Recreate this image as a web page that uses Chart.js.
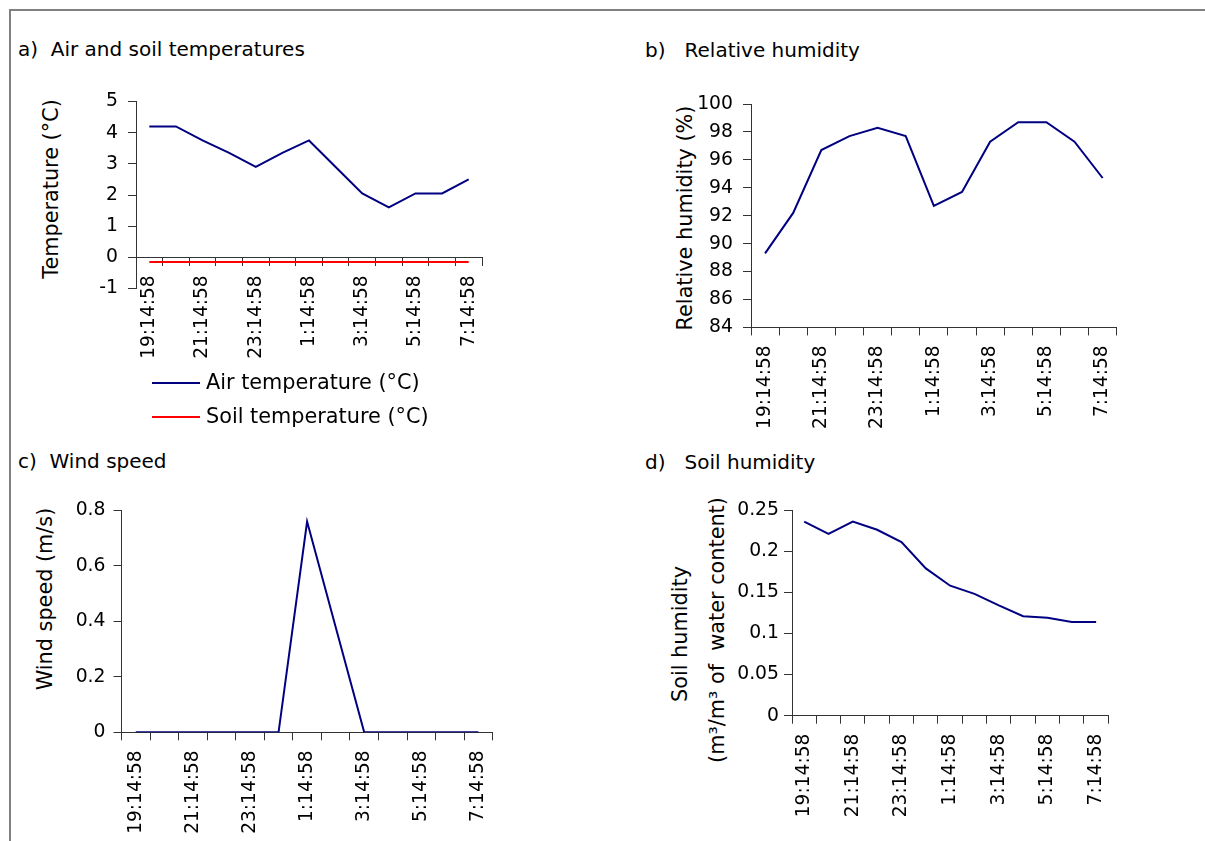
<!DOCTYPE html>
<html>
<head>
<meta charset="utf-8">
<title>Weather station night readings</title>
<script src="https://cdn.jsdelivr.net/npm/chart.js@4.4.0/dist/chart.umd.min.js"></script>
<style>
  body { margin: 0; background: #fff; }
  #page { position: relative; width: 1205px; height: 841px; overflow: hidden; font-family: 'DejaVu Sans', sans-serif; color: #000; }
  #frame { position: absolute; left: 9px; top: 9px; width: 1400px; height: 1000px; border-left: 2px solid #808080; border-top: 2px solid #808080; }
  canvas { position: absolute; left: 0; top: 0; }
  .title { position: absolute; font-size: 20px; line-height: 20px; white-space: pre; }
  .ytitle { position: absolute; font-size: 20.8px; line-height: 20.8px; white-space: pre; transform: translate(-50%, -50%) rotate(-90deg); }
  .lg-line { position: absolute; width: 48px; height: 2px; }
  .lg-text { position: absolute; font-size: 20.8px; line-height: 20.8px; white-space: pre; }
</style>
</head>
<body>
<div id="page">
  <div id="frame"></div>

  <div class="title" style="left:18px; top:39px;">a)  Air and soil temperatures</div>
  <div class="title" style="left:645px; top:40px;">b)   Relative humidity</div>
  <div class="title" style="left:18px; top:450.5px;">c)  Wind speed</div>
  <div class="title" style="left:645px; top:451.5px;">d)   Soil humidity</div>

  <div class="ytitle" style="left:51px; top:189px;">Temperature (°C)</div>
  <div class="ytitle" style="left:685px; top:218px;">Relative humidity (%)</div>
  <div class="ytitle" style="left:45px; top:599px;">Wind speed (m/s)</div>
  <div class="ytitle" style="left:680px; top:634px;">Soil humidity</div>
  <div class="ytitle" style="left:717px; top:630px;">(m³/m³ of  water content)</div>

  <canvas id="chartA" width="1205" height="841"></canvas>
  <canvas id="chartB" width="1205" height="841"></canvas>
  <canvas id="chartC" width="1205" height="841"></canvas>
  <canvas id="chartD" width="1205" height="841"></canvas>
  <div id="legendA"></div>
</div>

<script>
  // hourly readings, 19:14:58 to 7:14:58
  const times = ['19:14:58', '20:14:58', '21:14:58', '22:14:58', '23:14:58', '0:14:58', '1:14:58',
                 '2:14:58', '3:14:58', '4:14:58', '5:14:58', '6:14:58', '7:14:58'];
  const airTemp = [4.2, 4.2, 3.75, 3.35, 2.9, 3.35, 3.75, 2.9, 2.05, 1.6, 2.05, 2.05, 2.5];
  const soilTemp = [-0.15, -0.15, -0.15, -0.15, -0.15, -0.15, -0.15, -0.15, -0.15, -0.15, -0.15, -0.15, -0.15];
  const relHumidity = [89.3, 92.2, 96.7, 97.7, 98.3, 97.7, 92.7, 93.7, 97.3, 98.7, 98.7, 97.3, 94.7];
  const windSpeed = [0, 0, 0, 0, 0, 0, 0.76, 0.38, 0, 0, 0, 0, 0];
  const soilHumidity = [0.236, 0.221, 0.236, 0.226, 0.211, 0.179, 0.158, 0.148, 0.134, 0.121, 0.119, 0.114, 0.114];

  const W = 1205, H = 841;
  const FONT = 'DejaVu Sans';
  const AXIS = '#333333';
  const NAVY = '#000080';
  const RED = '#ff0000';

  function makePanel(id, area, xPosition, yAxis, labelPad, datasets) {
    const yWidth = 60;
    // an axis crossing at a value is not clipped, so it can take no room;
    // a bottom axis clips its labels to its box, so it gets all the room under the plot
    const crossing = typeof xPosition === 'object';
    const below = H - area.bottom;
    return new Chart(document.getElementById(id), {
      type: 'line',
      data: { labels: times, datasets: datasets },
      options: {
        responsive: false,
        animation: false,
        events: [],
        layout: {
          padding: { left: area.left - yWidth, top: area.top, right: W - area.right, bottom: crossing ? below : 0 }
        },
        plugins: { legend: { display: false }, tooltip: { enabled: false } },
        elements: { point: { radius: 0 }, line: { tension: 0, borderWidth: 2 } },
        scales: {
          x: {
            position: xPosition,
            offset: true,
            grid: { offset: true, drawOnChartArea: false, tickLength: 8, color: AXIS },
            border: { color: AXIS },
            ticks: {
              autoSkip: false, maxRotation: 90, minRotation: 90, padding: 10,
              color: '#000', font: { family: FONT, size: 18.6 },
              callback: function (v, i) { return i % 2 === 0 ? this.getLabelForValue(v) : ''; }
            },
            afterFit: s => { s.height = crossing ? 0 : below; }
          },
          y: {
            min: yAxis.min, max: yAxis.max,
            grid: { drawOnChartArea: false, tickLength: 8, color: AXIS },
            border: { color: AXIS },
            ticks: {
              stepSize: yAxis.step, padding: labelPad, color: '#000', font: { family: FONT, size: 18.8 },
              callback: v => String(parseFloat(v.toFixed(4)))
            },
            afterFit: s => { s.width = yWidth; }
          }
        }
      }
    });
  }

  const chartA = makePanel('chartA', { left: 136, right: 482, top: 101.5, bottom: 288.5 }, { y: 0 },
    { min: -1, max: 5, step: 1 }, 10, [
      { label: 'Air temperature (°C)', data: airTemp, borderColor: NAVY },
      { label: 'Soil temperature (°C)', data: soilTemp, borderColor: RED }
    ]);

  makePanel('chartB', { left: 751, right: 1116.7, top: 104, bottom: 327.4 }, 'bottom',
    { min: 84, max: 100, step: 2 }, 10, [
      { label: 'Relative humidity (%)', data: relHumidity, borderColor: NAVY }
    ]);

  makePanel('chartC', { left: 121.5, right: 492.7, top: 510.5, bottom: 732.3 }, 'bottom',
    { min: 0, max: 0.8, step: 0.2 }, 8, [
      { label: 'Wind speed (m/s)', data: windSpeed, borderColor: NAVY }
    ]);

  makePanel('chartD', { left: 792, right: 1108.3, top: 510, bottom: 715.7 }, 'bottom',
    { min: 0, max: 0.25, step: 0.05 }, 5, [
      { label: 'Soil humidity', data: soilHumidity, borderColor: NAVY }
    ]);

  // legend of panel a, stacked under its axis labels
  const legend = document.getElementById('legendA');
  chartA.data.datasets.forEach((ds, i) => {
    const line = document.createElement('div');
    line.className = 'lg-line';
    line.style.left = '152px';
    line.style.top = (382.3 + i * 33.4) + 'px';
    line.style.background = ds.borderColor;
    const txt = document.createElement('div');
    txt.className = 'lg-text';
    txt.style.left = '206px';
    txt.style.top = (372.4 + i * 33.4) + 'px';
    txt.textContent = ds.label;
    legend.appendChild(line);
    legend.appendChild(txt);
  });
</script>
</body>
</html>
